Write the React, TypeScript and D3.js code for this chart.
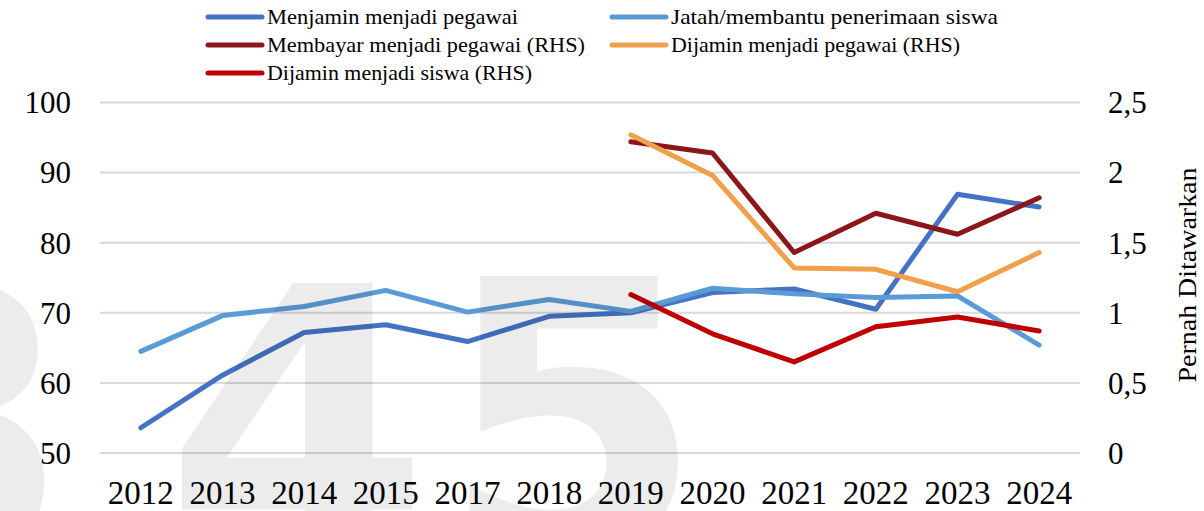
import React from "react";
import * as d3 from "d3";

const categories = ["2012", "2013", "2014", "2015", "2017", "2018", "2019", "2020", "2021", "2022", "2023", "2024"];
const menjaminPegawai = [53.6, 61.1, 67.2, 68.3, 65.9, 69.5, 70.0, 72.9, 73.4, 70.5, 86.9, 85.1];
const jatahSiswa = [64.5, 69.6, 70.9, 73.2, 70.1, 71.9, 70.2, 73.5, 72.7, 72.2, 72.4, 65.4];
const membayarPegawai = [null, null, null, null, null, null, 2.22, 2.14, 1.43, 1.71, 1.56, 1.82];
const dijaminPegawai = [null, null, null, null, null, null, 2.27, 1.98, 1.32, 1.31, 1.15, 1.43];
const dijaminSiswa = [null, null, null, null, null, null, 1.13, 0.85, 0.65, 0.9, 0.97, 0.87];
const leftTicks = [50, 60, 70, 80, 90, 100];
const rightTicks = [0, 0.5, 1, 1.5, 2, 2.5];
const rightTickLabels = ["0", "0,5", "1", "1,5", "2", "2,5"];
const rightTitle = "Pernah Ditawarkan";

type S = { name: string; values: (number | null)[]; color: string; axis: "L" | "R"; textLen: number };
const series: S[] = [
  { name: "Menjamin menjadi pegawai", values: menjaminPegawai, color: "#4472C4", axis: "L", textLen: 251 },
  { name: "Jatah/membantu penerimaan siswa", values: jatahSiswa, color: "#5B9BD5", axis: "L", textLen: 327 },
  { name: "Membayar menjadi pegawai (RHS)", values: membayarPegawai, color: "#8B171A", axis: "R", textLen: 318 },
  { name: "Dijamin menjadi pegawai (RHS)", values: dijaminPegawai, color: "#F0A04B", axis: "R", textLen: 289 },
  { name: "Dijamin menjadi siswa (RHS)", values: dijaminSiswa, color: "#C00000", axis: "R", textLen: 265 },
];

const W = 1204, H = 511;
const plotL = 100, plotR = 1080, plotT = 102.5, plotB = 453;

export default function App() {
  const x = d3.scaleBand<string>().domain(categories).range([plotL, plotR]).padding(0);
  const cx = (c: string) => (x(c) as number) + x.bandwidth() / 2;
  const yL = d3.scaleLinear().domain([50, 100]).range([plotB, plotT]);
  const yR = d3.scaleLinear().domain([0, 2.5]).range([plotB, plotT]);
  const font = "'Liberation Serif', 'Times New Roman', serif";

  const legendPos = [
    { x: 208, y: 17 },
    { x: 612, y: 17 },
    { x: 208, y: 45 },
    { x: 612, y: 45 },
    { x: 208, y: 73 },
  ];

  return (
    <svg width={W} height={H} style={{ position: "absolute", left: 0, top: 0, background: "#fff" }}>
      <rect width={W} height={H} fill="#fff" />
      {leftTicks.map((t) => (
        <line key={t} x1={plotL} x2={plotR} y1={yL(t)} y2={yL(t)} stroke="#d9d9d9" strokeWidth={2} />
      ))}
      {leftTicks.map((t) => (
        <text key={"l" + t} x={71} y={yL(t)} dy="0.35em" textAnchor="end" fontFamily={font} fontSize={31} fill="#000">
          {t}
        </text>
      ))}
      {rightTicks.map((t, i) => (
        <text key={"r" + t} x={1108} y={yR(t)} dy="0.35em" textAnchor="start" fontFamily={font} fontSize={31} fill="#000">
          {rightTickLabels[i]}
        </text>
      ))}
      {categories.map((c) => (
        <text key={c} x={cx(c)} y={504} textAnchor="middle" fontFamily={font} fontSize={33} fill="#000">
          {c}
        </text>
      ))}
      <text
        transform={`translate(1196,275) rotate(-90)`}
        textAnchor="middle"
        fontFamily={font}
        fontSize={25}
        textLength={215}
        lengthAdjust="spacingAndGlyphs"
        fill="#000"
      >
        {rightTitle}
      </text>
      {series.map((s) => {
        const y = s.axis === "L" ? yL : yR;
        const line = d3
          .line<number | null>()
          .defined((d) => d !== null)
          .x((_, i) => cx(categories[i]))
          .y((d) => y(d as number));
        return (
          <path
            key={s.name}
            d={line(s.values) || ""}
            fill="none"
            stroke={s.color}
            strokeWidth={5}
            strokeLinejoin="round"
            strokeLinecap="round"
          />
        );
      })}
      {series.map((s, i) => {
        const p = legendPos[i];
        return (
          <g key={"lg" + s.name}>
            <line x1={p.x} x2={p.x + 54} y1={p.y} y2={p.y} stroke={s.color} strokeWidth={5} strokeLinecap="round" />
            <text
              x={p.x + 59}
              y={p.y}
              dy="0.35em"
              fontFamily={font}
              fontSize={21}
              textLength={s.textLen}
              lengthAdjust="spacingAndGlyphs"
              fill="#000"
            >
              {s.name}
            </text>
          </g>
        );
      })}
      <g fill="#000" fillOpacity={0.075} fontFamily="'DejaVu Sans', sans-serif" fontWeight="bold" fontSize={380} style={{ pointerEvents: "none" }}>
        <text x={-190} y={560}>3</text>
        <text x={165} y={560}>4</text>
        <text x={440} y={553}>5</text>
      </g>
    </svg>
  );
}
